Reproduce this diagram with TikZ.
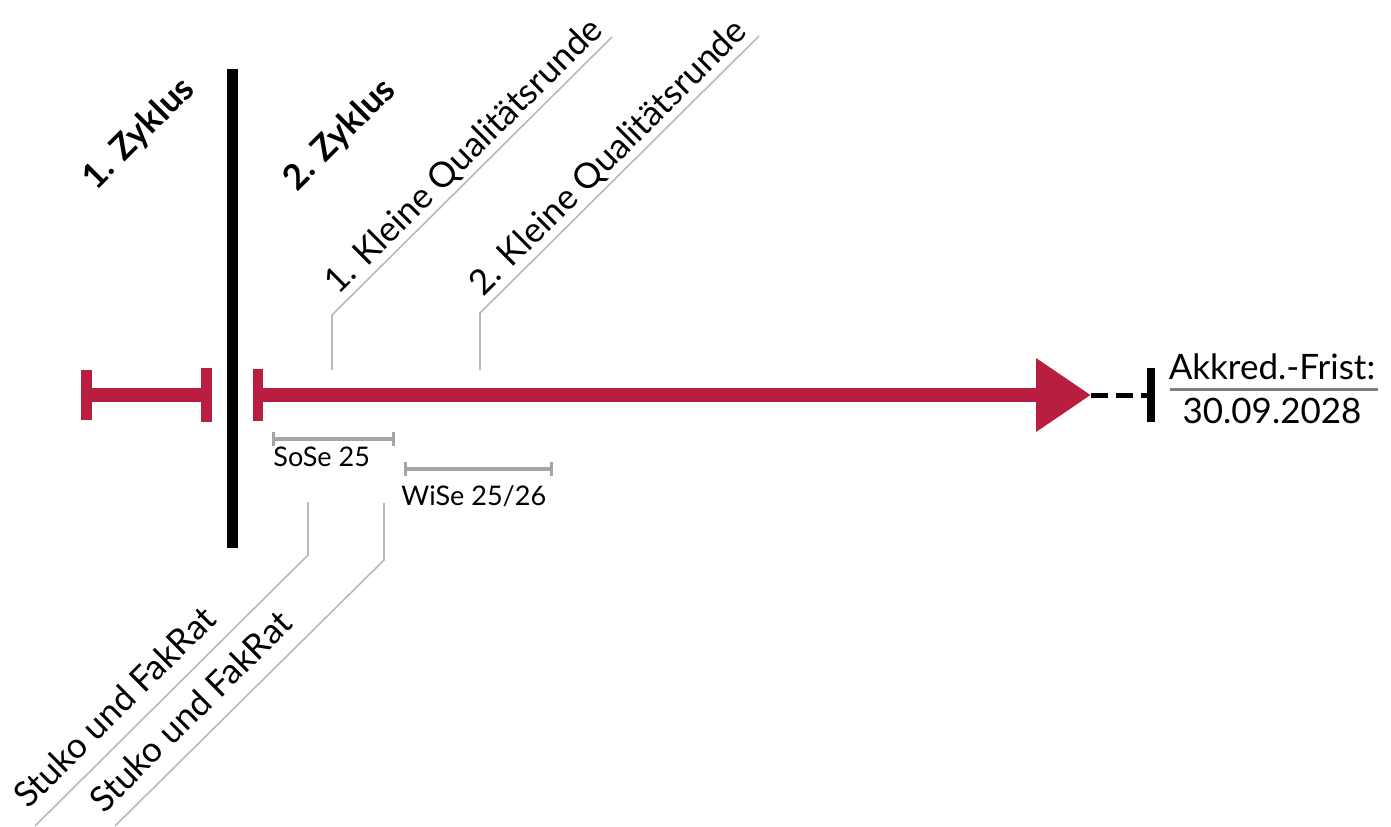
\documentclass[tikz,border=0pt]{standalone}
\usepackage{fontspec}
\setmainfont{Lato}
\usetikzlibrary{arrows.meta,positioning}

\definecolor{unired}{RGB}{185,30,65}
\definecolor{leadgray}{RGB}{185,185,185}
\definecolor{spangray}{RGB}{165,165,165}
\definecolor{rulegray}{RGB}{128,128,128}

\tikzset{
  redbar/.style={unired, line width=7pt},
  leader/.style={leadgray, line width=0.8pt},
  span/.style={spangray, line width=1.6pt, {Bar[width=7pt]}-{Bar[width=7pt]}},
  lbl/.style={font=\fontsize{17.5}{20}\selectfont, text=black, inner sep=1.5pt},
  small/.style={font=\fontsize{13.5}{15}\selectfont, text=black, inner sep=0pt},
  cyc/.style={font=\fontsize{17.5}{20}\selectfont\bfseries, rotate=45}
}

\begin{document}
\begin{tikzpicture}[x=0.5pt, y=-0.5pt]
\useasboundingbox (0,0) rectangle (1391,826);

% Zyklen
\coordinate (top) at (232,69);
\coordinate (bot) at (232,548);
\draw[line width=5.5pt] (top) -- (bot);
\node[cyc] (zyk1) at (139,134) {1. Zyklus};
\node[cyc] (zyk2) at (340,135) {2. Zyklus};

% Zeitstrahl
\coordinate (a1) at (81,395);
\coordinate (a2) at (212,395);
\coordinate (b1) at (253,395);
\coordinate (b2) at (1091,395);
\coordinate (c2) at (1155,395);
\draw[redbar, {Bar[width=25pt, line width'=5.5pt]}-{Bar[width=27pt, line width'=5.5pt]}] (a1) -- (a2);
\draw[redbar, {Bar[width=26pt, line width'=5pt]}-{Triangle[length=27.5pt, width=35pt]}] (b1) -- (b2);
\draw[line width=2.5pt, dash pattern=on 8.5pt off 4pt, -{Bar[width=27pt, line width'=4pt]}] (b2) -- (c2);

% Frist
\node[lbl] (frist) at (1272,367) {Akkred.-Frist:};
\node[lbl] (datum) at (1272,411) {30.09.2028};
\coordinate (r1) at (1170,389);
\coordinate (r2) at (1378,389);
\draw[rulegray, line width=1.5pt] (r1) -- (r2);

% Semester
\coordinate (so1) at (272,439);
\coordinate (so2) at (395,439);
\coordinate (wi1) at (404,469);
\coordinate (wi2) at (553,469);
\draw[span] (so1) -- (so2);
\draw[span] (wi1) -- (wi2);
\node[small, anchor=base west] (sose) at (273,466) {SoSe 25};
\node[small, anchor=base west] (wise) at (401,505) {WiSe 25/26};

% Qualitaetsrunden
\coordinate (kq1) at (332,370);
\coordinate (kq2) at (480,370);
\draw[leader] (kq1) -- ++(0,-55) -- ++(280,-278)
  node[pos=0.52, sloped, above, lbl] (kqr1) {1. Kleine Qualitätsrunde};
\draw[leader] (kq2) -- ++(0,-57) -- ++(279,-277)
  node[pos=0.51, sloped, above, lbl] (kqr2) {2. Kleine Qualitätsrunde};

% Gremien
\coordinate (st1) at (308,502);
\coordinate (st2) at (384,503);
\draw[leader] (st1) -- ++(0,53) -- ++(-273,271)
  node[pos=0.635, sloped, above=6pt, lbl] (stuko1) {Stuko und FakRat};
\draw[leader] (st2) -- ++(0,57) -- ++(-269,266)
  node[pos=0.645, sloped, above=6pt, lbl] (stuko2) {Stuko und FakRat};
\end{tikzpicture}
\end{document}
